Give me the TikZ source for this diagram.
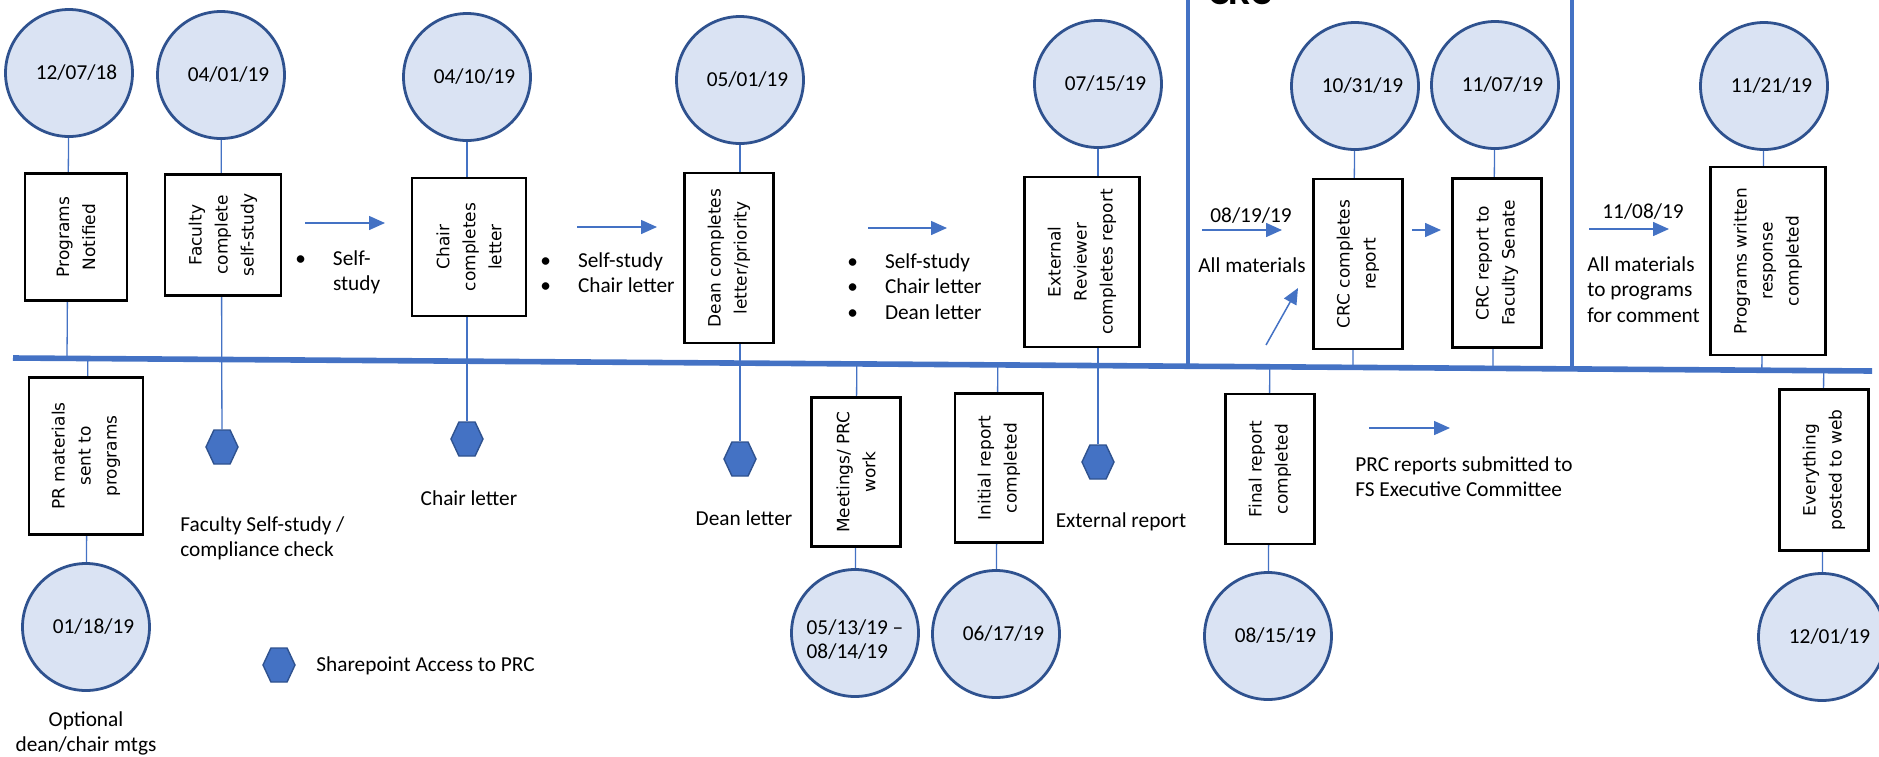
\documentclass[tikz,border=0pt]{standalone}
\usepackage{fontspec}
\setmainfont{Carlito}
\newfontfamily\stagefont{DejaVu Sans}
\usepackage{tikz}
\usetikzlibrary{arrows.meta, calc, backgrounds, shapes.symbols}
\definecolor{PRblue}{HTML}{4472C4}
\definecolor{PRdark}{HTML}{2F528F}
\definecolor{PRfill}{HTML}{DAE3F3}
\newcommand{\datesize}{\fontsize{10.65}{12}\selectfont}
\newcommand{\notesize}{\fontsize{10.65}{12.9}\selectfont}
\newcommand{\stagesize}{\fontsize{8.5}{13}\selectfont}
\newcommand{\datec}[2]{ node[name={#1}, datecirc] {\hspace*{7.5pt}#2}}
\newcommand{\stage}[4]{ node[name={#1}, stagebox, minimum height=#2*0.5pt, minimum width=#3*0.5pt] {#4}}
\newcommand{\sharep}[1]{ node[name={#1}, sharept] {}}
\newcommand{\rows}[2]{\begin{tabular}[t]{@{}#1@{}}#2\end{tabular}}
\newcommand{\bullets}[1]{\begin{tabular}[t]{@{}l@{\hspace{13.5pt}}l@{}}#1\end{tabular}}
\tikzset{datecirc/.style={circle, draw=PRdark, line width=1.4pt, fill=PRfill, minimum size=63.5pt, inner sep=0pt, font=\datesize}}
\tikzset{stagebox/.style={rectangle, draw=black, line width=1.1pt, fill=white, rotate=90, align=center, inner sep=1pt, font=\stagefont\stagesize}}
\tikzset{sharept/.style={signal, signal to=east and west, signal pointer angle=130, draw=PRdark, line width=0.7pt, fill=PRblue, minimum width=16pt, minimum height=17pt, inner sep=0pt}}
\tikzset{note/.style={inner sep=0pt, font=\notesize}}
\tikzset{link/.style={draw=PRblue, line width=0.65pt}}
\tikzset{flow/.style={draw=PRblue, line width=0.75pt, -{Triangle[length=8pt, width=7pt]}}}
\tikzset{timeline/.style={draw=PRblue, line width=2.8pt}}
\tikzset{sectionrule/.style={draw=PRblue, line width=1.7pt}}

\begin{document}
\begin{tikzpicture}[x=0.5pt, y=-0.5pt]
  \useasboundingbox (0,0) rectangle (1879,756);

  % --- time line and section rules ---
  \coordinate (tlL) at (13,358);
  \coordinate (tlR) at (1872,371);
  \draw[timeline] (tlL) -- (tlR);
  \draw[sectionrule] (1188,-2) -- (1188,364);
  \draw[sectionrule] (1572,-2) -- (1572,368);
  \node[anchor=base west, inner sep=0pt, font=\fontsize{19.4}{23}\selectfont\bfseries] (crc) at (1208,4) {CRC};

  % --- dates above the line ---
  \draw (69,73)   \datec{E1}{12/07/18};
  \draw (221,75)  \datec{E2}{04/01/19};
  \draw (467,77)  \datec{E3}{04/10/19};
  \draw (740,80)  \datec{E4}{05/01/19};
  \draw (1098,84) \datec{E5}{07/15/19};
  \draw (1355,86) \datec{E6}{10/31/19};
  \draw (1495,85) \datec{E7}{11/07/19};
  \draw (1764,86) \datec{E8}{11/21/19};

  % --- stages above the line ---
  \draw (76,237)   \stage{B1}{102}{127}{Programs\\Notified};
  \draw (223,235)  \stage{B2}{116}{121}{Faculty\\complete\\self-study};
  \draw (469,247)  \stage{B3}{114}{138}{Chair\\completes\\letter};
  \draw (729,258)  \stage{B4}{89}{170}{Dean completes\\letter/priority};
  \draw (1082,262) \stage{B5}{115}{170}{External\\Reviewer\\completes report};
  \draw (1358,264) \stage{B6}{89}{170}{CRC completes\\report};
  \draw (1497,263) \stage{B7}{89}{169}{CRC report to\\Faculty Senate};
  \draw (1768,261) \stage{B8}{115}{188}{Programs written\\response\\completed};

  % --- stages below the line ---
  \draw (86,456)   \stage{L1}{114}{157}{PR materials\\sent to\\programs};
  \draw (856,472)  \stage{L2}{89}{149}{Meetings/ PRC\\work};
  \draw (999,468)  \stage{L3}{88}{149}{Initial report\\completed};
  \draw (1270,469) \stage{L4}{89}{150}{Final report\\completed};
  \draw (1824,470) \stage{L5}{89}{161}{Everything\\posted to web};

  % --- dates below the line ---
  \draw (86,627)   \datec{C1}{01/18/19};
  \draw (855,633) node[name=C2, datecirc] {\raisebox{-0.5pt}[0pt][0pt]{\rows{l}{05/13/19 –\\08/14/19}}};
  \draw (996,634)  \datec{C3}{06/17/19};
  \draw (1268,636) \datec{C4}{08/15/19};
  \draw (1822,637) \datec{C5}{12/01/19};

  % --- Sharepoint marks ---
  \draw (222,447)  \sharep{H1};
  \draw (467,439)  \sharep{H2};
  \draw (740,459)  \sharep{H3};
  \draw (1098,462) \sharep{H4};
  \draw (279,665)  \sharep{HL};

  % --- notes ---
  \node[note, anchor=base west] (ssA) at (295,265) {\bullets{\textbullet & Self-\\ & study}};
  \node[note, anchor=base west] (ssB) at (540,267) {\bullets{\textbullet & Self-study\\ \textbullet & Chair letter}};
  \node[note, anchor=base west] (ssC) at (847,268) {\bullets{\textbullet & Self-study\\ \textbullet & Chair letter\\ \textbullet & Dean letter}};
  \node[note, anchor=base west] (d1) at (1210,222) {08/19/19};
  \node[note, anchor=base west] (m1) at (1198,272) {All materials};
  \node[note, anchor=base west] (d2) at (1602,218) {11/08/19};
  \node[note, anchor=base west] (m2) at (1587,271) {\rows{l}{All materials\\to programs\\for comment}};
  \node[note, anchor=base west] (nfac) at (180,531) {\rows{l}{Faculty Self-study /\\compliance check}};
  \node[note, anchor=base] (nchair) at (469,505) {Chair letter};
  \node[note, anchor=base] (ndean) at (744,525) {Dean letter};
  \node[note, anchor=base] (next) at (1121,527) {External report};
  \node[note, anchor=base west] (nshare) at (316,671) {Sharepoint Access to PRC};
  \node[note, anchor=base west] (nprc) at (1355,471) {\rows{l}{PRC reports submitted to\\FS Executive Committee}};
  \node[note, anchor=base] (nopt) at (86,726) {\rows{c}{Optional\\dean/chair mtgs}};

  % --- arrows ---
  \coordinate (a1) at (305,223);
  \coordinate (a2) at (577,227);
  \coordinate (a3) at (868,228);
  \coordinate (a4) at (1202,230);
  \coordinate (a5) at (1266,345);
  \coordinate (a6) at (1412,230);
  \coordinate (a7) at (1589,229);
  \coordinate (a8) at (1369,428);
  \draw[flow] (a1) -- ++(80,0);
  \draw[flow] (a2) -- ++(80,0);
  \draw[flow] (a3) -- ++(79,0);
  \draw[flow] (a4) -- ++(80,0);
  \draw[flow] (a5) -- ++(32,-57);
  \draw[flow] (a6) -- ++(29,0);
  \draw[flow] (a7) -- ++(80,0);
  \draw[flow] (a8) -- ++(81,0);

  % --- connectors ---
  \begin{scope}[on background layer]
    \draw[link] (E1) -- ($(tlL)!(E1)!(tlR)$);
    \draw[link] (E2) -- (H1);
    \draw[link] (E3) -- (H2);
    \draw[link] (E4) -- (H3);
    \draw[link] (E5) -- (H4);
    \draw[link] (E6) -- ($(tlL)!(E6)!(tlR)$);
    \draw[link] (E7) -- ($(tlL)!(E7)!(tlR)$);
    \draw[link] (E8) -- ($(tlL)!(E8)!(tlR)$);
    \draw[link] (C1) -- ($(tlL)!(C1)!(tlR)$);
    \draw[link] (C2) -- ($(tlL)!(C2)!(tlR)$);
    \draw[link] (C3) -- ($(tlL)!(C3)!(tlR)$);
    \draw[link] (C4) -- ($(tlL)!(C4)!(tlR)$);
    \draw[link] (C5) -- ($(tlL)!(C5)!(tlR)$);
  \end{scope}
\end{tikzpicture}
\end{document}
